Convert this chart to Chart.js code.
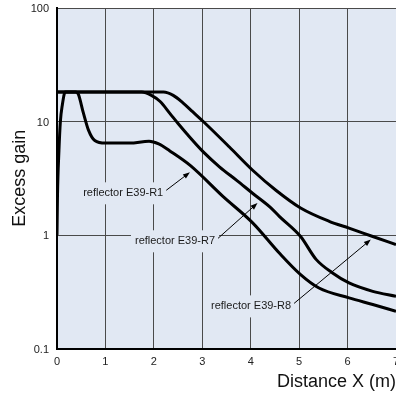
<!DOCTYPE html>
<html>
<head>
<meta charset="utf-8">
<script src="https://cdn.jsdelivr.net/npm/chart.js@4/dist/chart.umd.min.js"></script>
<style>
  html, body { margin: 0; padding: 0; background: #fff; }
  #wrap { width: 396px; height: 396px; }
</style>
</head>
<body>
<div id="wrap"><canvas id="chart-1"></canvas></div>
<script>
// distance (m) / excess gain
const xR1 = [0, 0.01, 0.04, 0.07, 0.11, 0.17, 0.38, 0.44, 0.54, 0.65, 0.78, 1.0, 1.5, 1.9, 2.1, 2.33, 2.75, 3.42, 4.04, 4.59, 5.03, 5.41, 6.03, 6.52, 7.0];
const yR1 = [1.0, 2.2, 5.5, 10, 14, 18.2, 18.2, 17.4, 12.1, 8.4, 6.8, 6.45, 6.45, 6.7, 6.35, 5.5, 4.1, 2.2, 1.28, 0.694, 0.448, 0.341, 0.279, 0.244, 0.213];

const xR7 = [0, 1.75, 1.95, 2.13, 2.33, 2.5, 2.68, 3.02, 3.36, 3.71, 4.05, 4.4, 4.59, 5.03, 5.35, 5.69, 6.03, 6.52, 7.0];
const yR7 = [18.2, 18.2, 17.0, 15.0, 11.8, 9.6, 7.8, 5.4, 3.97, 3.03, 2.31, 1.76, 1.46, 0.97, 0.61, 0.463, 0.378, 0.319, 0.288];

const xR8 = [0, 2.2, 2.4, 2.6, 2.8, 3.02, 3.56, 4.04, 4.52, 5.03, 5.62, 6.03, 6.52, 7.0];
const yR8 = [18.2, 18.2, 17.0, 14.6, 12.2, 10, 5.96, 3.72, 2.48, 1.73, 1.32, 1.15, 0.97, 0.823];

const yTicks = [0.1, 1, 10, 100];
const xTicks = [0, 1, 2, 3, 4, 5, 6, 7];

// callout labels, in data units
const notes = [
  { text: "reflector E39-R1", x: 0.54, y: 2.33, tipX: 2.745, tipY: 3.57 },
  { text: "reflector E39-R7", x: 1.61, y: 0.88, tipX: 4.14, tipY: 1.91 },
  { text: "reflector E39-R8", x: 3.18, y: 0.235, tipX: 6.48, tipY: 0.911 }
];

const FONT = "'Liberation Sans', Arial, Helvetica, sans-serif";
const PLOT_BG = "#e1e8f3";

const toPoints = (xs, ys) => xs.map((x, i) => ({ x: x, y: ys[i] }));

function curve(label, xs, ys) {
  return {
    label: label,
    data: toPoints(xs, ys),
    borderColor: "#000",
    borderWidth: 3,
    pointRadius: 0,
    fill: false,
    cubicInterpolationMode: "monotone"
  };
}

const plotBackground = {
  id: "plotBackground",
  beforeDraw(chart) {
    const { ctx, chartArea: a } = chart;
    ctx.save();
    ctx.fillStyle = PLOT_BG;
    ctx.fillRect(a.left, a.top, a.right - a.left, a.bottom - a.top);
    ctx.restore();
  }
};

const callouts = {
  id: "callouts",
  afterDatasetsDraw(chart) {
    const { ctx, scales } = chart;
    ctx.save();
    ctx.font = "11px " + FONT;
    ctx.textBaseline = "middle";
    ctx.textAlign = "left";
    notes.forEach(n => {
      const px = scales.x.getPixelForValue(n.x);
      const py = scales.y.getPixelForValue(n.y);
      const w = ctx.measureText(n.text).width;
      ctx.fillStyle = PLOT_BG;
      ctx.fillRect(px - 4, py - 11, w + 8, 22);
      ctx.fillStyle = "#1a1a1a";
      ctx.fillText(n.text, px, py);

      const sx = px + w + 3, sy = py - 3;
      const tx = scales.x.getPixelForValue(n.tipX);
      const ty = scales.y.getPixelForValue(n.tipY);
      const ang = Math.atan2(ty - sy, tx - sx);
      ctx.strokeStyle = "#000";
      ctx.lineWidth = 1;
      ctx.beginPath();
      ctx.moveTo(sx, sy);
      ctx.lineTo(tx - 5 * Math.cos(ang), ty - 5 * Math.sin(ang));
      ctx.stroke();
      ctx.fillStyle = "#000";
      ctx.beginPath();
      ctx.moveTo(tx, ty);
      ctx.lineTo(tx - 7 * Math.cos(ang) + 2.6 * Math.sin(ang), ty - 7 * Math.sin(ang) - 2.6 * Math.cos(ang));
      ctx.lineTo(tx - 7 * Math.cos(ang) - 2.6 * Math.sin(ang), ty - 7 * Math.sin(ang) + 2.6 * Math.cos(ang));
      ctx.closePath();
      ctx.fill();
    });
    ctx.restore();
  }
};

const ctx1 = document.getElementById("chart-1").getContext("2d");
const myChart = new Chart(ctx1, {
  type: "line",
  data: {
    datasets: [
      curve("reflector E39-R1", xR1, yR1),
      curve("reflector E39-R7", xR7, yR7),
      curve("reflector E39-R8", xR8, yR8)
    ]
  },
  options: {
    responsive: true,
    maintainAspectRatio: false,
    animation: false,
    layout: { padding: { top: 8, right: 0, left: 0, bottom: 0 } },
    plugins: {
      legend: { display: false },
      tooltip: { enabled: false }
    },
    scales: {
      x: {
        type: "linear",
        min: 0,
        max: 7,
        afterBuildTicks: axis => { axis.ticks = xTicks.map(v => ({ value: v })); },
        afterFit: axis => { axis.height = 47.5; axis.paddingLeft = 0; axis.paddingRight = 0; },
        ticks: { padding: 7, color: "#222", font: { family: FONT, size: 11 }, maxRotation: 0 },
        grid: { color: "#4a4a4a", lineWidth: 1, drawTicks: false },
        border: { color: "#000", width: 2 },
        title: {
          display: true,
          text: "Distance X (m)",
          align: "end",
          color: "#111",
          font: { family: FONT, size: 18 },
          padding: { top: 0, bottom: 3 }
        }
      },
      y: {
        type: "logarithmic",
        min: 0.1,
        max: 100,
        afterBuildTicks: axis => { axis.ticks = yTicks.map(v => ({ value: v })); },
        afterFit: axis => { axis.width = 57; axis.paddingTop = 0; axis.paddingBottom = 0; },
        ticks: {
          padding: 8,
          labelOffset: 1,
          color: "#222",
          font: { family: FONT, size: 11 },
          callback: v => (yTicks.includes(v) ? String(v) : "")
        },
        grid: { color: "#4a4a4a", lineWidth: 1, drawTicks: false },
        border: { color: "#000", width: 2 },
        title: {
          display: true,
          text: "Excess gain",
          color: "#111",
          font: { family: FONT, size: 18 },
          padding: { top: 9, bottom: 0 }
        }
      }
    }
  },
  plugins: [plotBackground, callouts]
});
</script>
</body>
</html>
